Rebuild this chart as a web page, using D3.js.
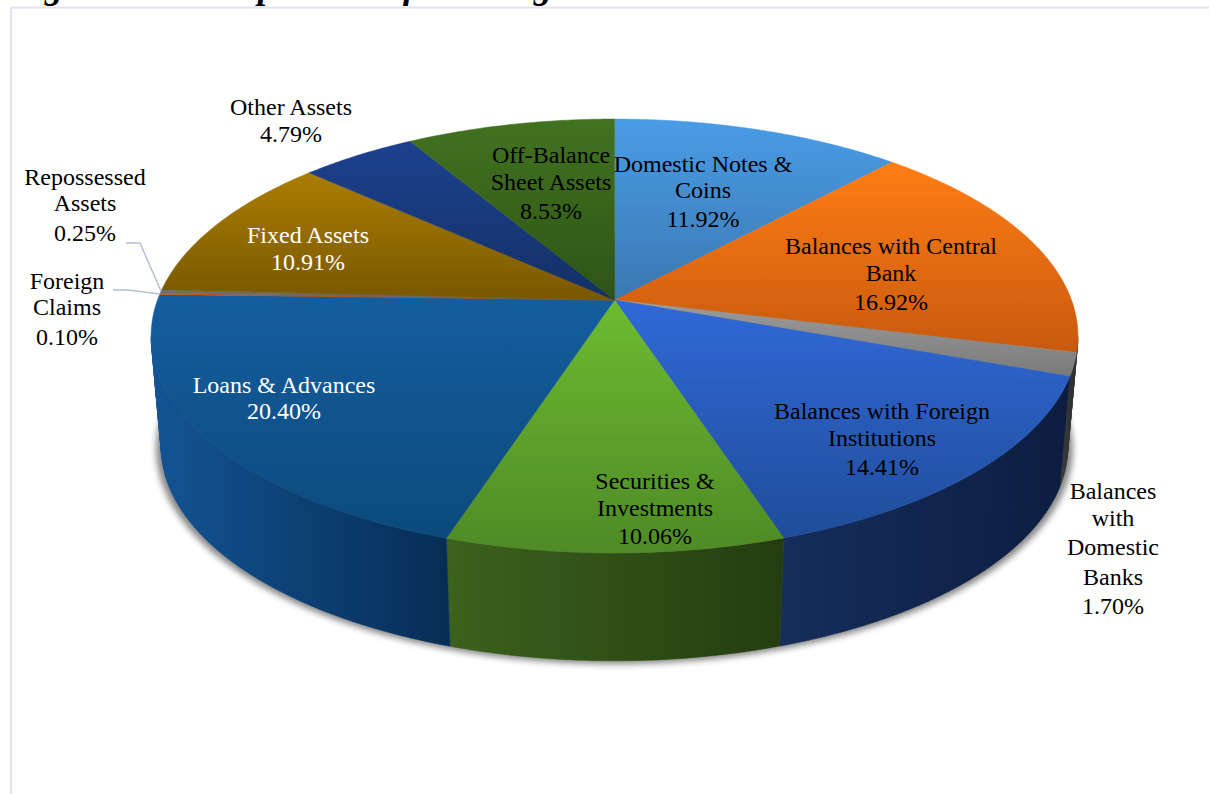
<!DOCTYPE html>
<html><head><meta charset="utf-8">
<script src="https://cdn.jsdelivr.net/npm/d3@7"></script>
<style>html,body{margin:0;padding:0;background:#fff;overflow:hidden}svg{display:block}</style>
</head><body><svg id="c" width="1209" height="794"></svg>
<script>
const categories=["Domestic Notes & Coins","Balances with Central Bank","Balances with Domestic Banks","Balances with Foreign Institutions","Securities & Investments","Loans & Advances","Foreign Claims","Repossessed Assets","Fixed Assets","Other Assets","Off-Balance Sheet Assets"];
const shares=[11.92,16.92,1.70,14.41,10.06,20.40,0.10,0.25,10.91,4.79,8.53];
const labelLines=[["Domestic Notes &","Coins"],["Balances with Central","Bank"],["Balances","with","Domestic","Banks"],["Balances with Foreign","Institutions"],["Securities &","Investments"],["Loans & Advances"],["Foreign","Claims"],["Repossessed","Assets"],["Fixed Assets"],["Other Assets"],["Off-Balance","Sheet Assets"]];

// styling and layout, indexed like categories
const topColors=[["#4a9ce6","#3a78b2"],["#ff7d14","#c8590e"],["#9c9c9c","#7a7a7a"],["#3069d8","#204d9a"],["#6cbc30","#4f8a26"],["#145e9f","#0c4a7c"],["#c0561a","#a84a14"],["#707070","#606060"],["#ab7c00","#785800"],["#1d418f","#133065"],["#427320","#2e5416"]];
const sideColors=[["#2a5f90","#2a5f90"],["#3c3c3c","#3c3c3c"],["#3c3c3c","#2c2c2c"],["#162e5c","#0c1d40"],["#3c621d","#243d10"],["#135494","#062d55"],["#6a3010","#6a3010"],["#404040","#404040"],["#5a4200","#5a4200"],["#10264f","#10264f"],["#24401a","#24401a"]];
const labelPos=[[703,172],[891,254],[1113,499],[882,419],[655,489],[284,393],[67,289],[85,185],[308,243],[291,115],[551,163]];
const labelFill=["#000","#000","#000","#000","#000","#fff","#000","#000","#fff","#000","#000"];
const lineOffsets=[[0,26,55],[0,27,56],[0,27,56,86,115],[0,27,56],[0,27,55],[0,26],[0,26,56],[0,26,56],[0,27],[0,27],[0,27,56]];
const leaders=[[[126,243],[140,243],[161,291]],[[113,290],[128,290],[160,294]]];

const svg=d3.select("#c");
const defs=svg.append("defs");
defs.append("filter").attr("id","sh").attr("x","-10%").attr("y","-10%").attr("width","120%").attr("height","120%")
  .append("feGaussianBlur").attr("stdDeviation",3);

// frame
svg.append("path").attr("d","M11 794V7.5H1209").attr("fill","none").attr("stroke","#e0e4ef").attr("stroke-width",2);

// heading, cut by the top edge as in the source
const head=svg.append("text").attr("x",11).attr("y",-2).attr("font-family","Liberation Serif").attr("font-weight","bold").attr("font-style","italic").attr("font-size",36).attr("fill","#000");
head.append("tspan").text("Figure 12: ");
head.append("tspan").attr("dx",9).text("Composition of Banking Assets");

// perspective pie: maps an angle (clockwise from the far point) to the page
const k=0.1659;
const rim={x0:614.5,y0:300,a:211,b:457};
const base={x0:614.5,y0:411.5,a:208,b:447};
const proj=(f,t)=>{const u=Math.sin(t),v=Math.cos(t),w=1+k*v;return [f.x0+f.b*u/w,f.y0-f.a*v/w];};
const pie=d3.pie().sort(null).value(d=>d);
const arcs=pie(shares);
const line=d3.line();
const arcPts=(f,a0,a1)=>{const n=Math.max(2,Math.ceil((a1-a0)/0.01));return d3.range(n+1).map(i=>proj(f,a0+(a1-a0)*i/n));};

// shadow
svg.append("path").attr("d",line(arcPts({...base,y0:base.y0+2,b:base.b+5,a:base.a+1},0,2*Math.PI))+"Z")
  .attr("fill","#6a6a6a").attr("opacity",0.8).attr("filter","url(#sh)");

function grad(id,pts,cols,dir){
  const xs=pts.map(p=>p[0]),ys=pts.map(p=>p[1]);
  const g=defs.append("linearGradient").attr("id",id).attr("gradientUnits","userSpaceOnUse");
  if(dir==="v") g.attr("x1",0).attr("x2",0).attr("y1",d3.min(ys)).attr("y2",d3.max(ys));
  else g.attr("y1",0).attr("y2",0).attr("x1",d3.min(xs)).attr("x2",d3.max(xs));
  g.append("stop").attr("offset",0).attr("stop-color",cols[0]);
  g.append("stop").attr("offset",1).attr("stop-color",cols[1]);
}

// side walls: only the part of the rim that faces the viewer, between the two silhouette tangents
const tangent=Math.acos(-k), front=[tangent,2*Math.PI-tangent];
arcs.forEach((d,i)=>{
  const s=Math.max(d.startAngle,front[0]),e=Math.min(d.endAngle,front[1]);
  if(e<=s) return;
  const a=arcPts(rim,s,e),b=arcPts(base,s,e);
  grad("s"+i,a.concat(b),sideColors[i],"h");
  const dStr=d3.range(a.length-1).map(j=>line([a[j],a[j+1],b[j+1],b[j]])+"Z").join("");
  svg.append("path").attr("d",dStr).attr("fill",`url(#s${i})`).attr("stroke",`url(#s${i})`).attr("stroke-width",0.4);
});
// top faces
const centre=[rim.x0,rim.y0];
arcs.forEach((d,i)=>{
  const pts=[centre].concat(arcPts(rim,d.startAngle,d.endAngle));
  grad("t"+i,pts,topColors[i],"v");
  svg.append("path").attr("d",line(pts)+"Z").attr("fill",`url(#t${i})`).attr("stroke",`url(#t${i})`).attr("stroke-width",0.5);
});

// leaders
leaders.forEach(l=>svg.append("path").attr("d",line(l)).attr("fill","none").attr("stroke","#b3bfd3").attr("stroke-width",1.5));

// labels
const fmt=d3.format(".2f");
categories.forEach((c,i)=>{
  const t=svg.append("text").attr("text-anchor","middle").attr("font-family","Liberation Serif").attr("font-size",24).attr("fill",labelFill[i]);
  labelLines[i].concat(fmt(shares[i])+"%").forEach((s,j)=>{
    t.append("tspan").attr("x",labelPos[i][0]).attr("y",labelPos[i][1]+lineOffsets[i][j]).text(s);
  });
});
</script></body></html>
